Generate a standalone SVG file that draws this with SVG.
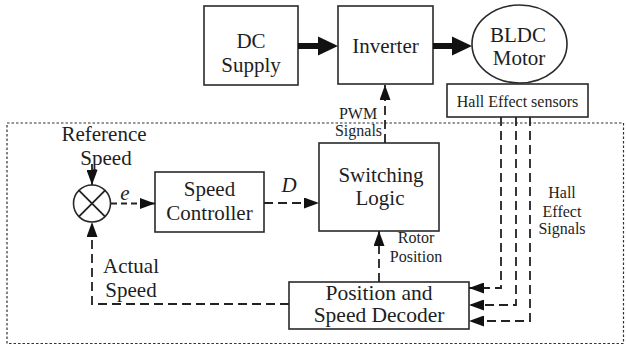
<svg xmlns="http://www.w3.org/2000/svg" width="626" height="347" viewBox="0 0 626 347">
<style>
text{font-family:"Liberation Serif","Times New Roman",serif;fill:#1e1e1e;text-anchor:middle}
.big{font-size:21px}
.sm{font-size:16px}
.box{fill:#fff;stroke:#2a2a2a;stroke-width:1.6}
.ln{fill:none;stroke:#222;stroke-width:1.8}
.dash{stroke-dasharray:9,5}
.thick{fill:none;stroke:#111;stroke-width:6}
.border{fill:none;stroke:#333;stroke-width:1.2;stroke-dasharray:2.5,2}
</style>
<defs>
<marker id="ah" markerUnits="userSpaceOnUse" markerWidth="16" markerHeight="11" refX="15" refY="5.5" orient="auto">
<path d="M0,0 L15,5.5 L0,11 z" fill="#111"/>
</marker>
<marker id="ahT" markerUnits="userSpaceOnUse" markerWidth="21" markerHeight="20" refX="2" refY="10" orient="auto">
<path d="M0,0.5 L20,10 L0,19.5 z" fill="#111"/>
</marker>
</defs>
<rect class="border" x="7" y="123" width="616.5" height="220.5"/>
<g id="dc-supply">
<rect class="box" x="204" y="6" width="94" height="79"/>
<text class="big" x="251" y="48">DC</text>
<text class="big" x="251" y="72">Supply</text>
</g>
<g id="inverter">
<rect class="box" x="338" y="6" width="95" height="78"/>
<text class="big" x="385.5" y="52.5">Inverter</text>
</g>
<g id="bldc-motor">
<ellipse class="box" cx="519.5" cy="44" rx="47.5" ry="39"/>
<text class="big" x="518" y="42">BLDC</text>
<text class="big" x="519" y="65">Motor</text>
</g>
<g id="hall-sensors">
<rect class="box" x="447" y="84" width="141" height="33"/>
<text style="font-size:16px" x="517.5" y="107">Hall Effect sensors</text>
</g>
<g id="summing-junction">
<circle class="box" cx="92" cy="203.5" r="18.5"/>
<path class="ln" d="M78.9,190.4 L105.1,216.6 M105.1,190.4 L78.9,216.6"/>
</g>
<g id="speed-controller">
<rect class="box" x="155" y="172" width="109" height="60"/>
<text class="big" x="209.5" y="196">Speed</text>
<text class="big" x="209.5" y="220">Controller</text>
</g>
<g id="switching-logic">
<rect class="box" x="319" y="143" width="120" height="88"/>
<text class="big" x="381" y="182">Switching</text>
<text class="big" x="380" y="205">Logic</text>
</g>
<g id="decoder">
<rect class="box" x="289" y="282" width="180" height="47"/>
<text class="big" x="379" y="300" style="font-size:21.5px">Position and</text>
<text class="big" x="379" y="322" style="font-size:21.5px">Speed Decoder</text>
</g>
<g id="connectors">
<line class="thick" x1="298" y1="46" x2="320" y2="46" marker-end="url(#ahT)"/>
<line class="thick" x1="433" y1="46" x2="454" y2="46" marker-end="url(#ahT)"/>
<line class="ln dash" x1="385" y1="143" x2="385" y2="85" marker-end="url(#ah)"/>
<line class="ln" x1="92" y1="164" x2="92" y2="185" marker-end="url(#ah)"/>
<line class="ln dash" x1="111" y1="203.5" x2="155" y2="203.5" marker-end="url(#ah)" style="stroke-dasharray:6,4"/>
<line class="ln dash" x1="264" y1="203" x2="319" y2="203" marker-end="url(#ah)"/>
<line class="ln dash" x1="379" y1="282" x2="379" y2="231" marker-end="url(#ah)"/>
<path class="ln dash" d="M289,304 H92 V222" marker-end="url(#ah)"/>
<path class="ln dash" d="M501,117 V288 H469" marker-end="url(#ah)"/>
<path class="ln dash" d="M516,117 V305 H469" marker-end="url(#ah)"/>
<path class="ln dash" d="M530,117 V321 H469" marker-end="url(#ah)"/>
</g>
<g id="labels">
<text class="big" x="104" y="141">Reference</text>
<text class="big" x="106" y="165">Speed</text>
<text class="big" x="125" y="200" style="font-style:italic">e</text>
<text class="big" x="289" y="192" style="font-style:italic">D</text>
<text class="big" x="131" y="273">Actual</text>
<text class="big" x="131" y="297">Speed</text>
<text class="sm" x="358" y="119">PWM</text>
<text class="sm" x="358.5" y="136">Signals</text>
<text class="sm" x="416" y="243">Rotor</text>
<text class="sm" x="416" y="262">Position</text>
<text class="sm" x="562" y="198">Hall</text>
<text class="sm" x="562" y="217">Effect</text>
<text class="sm" x="562" y="234">Signals</text>
</g>
</svg>
